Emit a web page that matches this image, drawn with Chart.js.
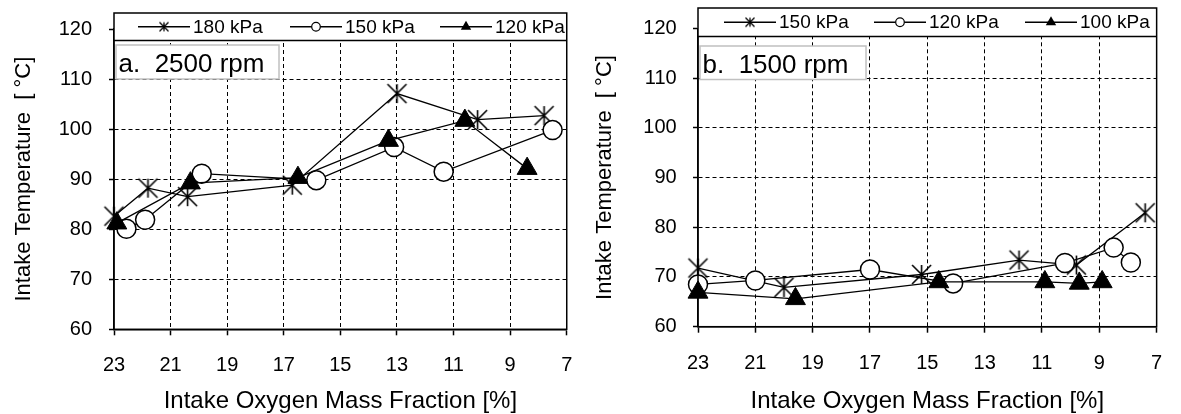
<!DOCTYPE html>
<html>
<head>
<meta charset="utf-8">
<script src="https://cdn.jsdelivr.net/npm/chart.js@4"></script>
<style>
  body { margin: 0; background: #fff; }
  #wrap { position: relative; width: 1181px; height: 414px; }
  canvas { position: absolute; top: 0; }
  #chartA { left: 0; }
  #chartB { left: 590px; }
</style>
</head>
<body>
<div id="wrap">
  <canvas id="chartA" width="590" height="414"></canvas>
  <canvas id="chartB" width="591" height="414"></canvas>
</div>
<script>
const FONT = '"Liberation Sans", Arial, sans-serif';

// shared axes: intake O2 mass fraction [%] (reversed) vs intake temperature [°C]
const xTicks = [23, 21, 19, 17, 15, 13, 11, 9, 7];
const yTicks = [60, 70, 80, 90, 100, 110, 120];

// a. 2500 rpm
const labelsA = ['180 kPa', '150 kPa', '120 kPa'];
const o2A180 = [23.0, 21.8, 20.4, 16.7, 13.0, 10.15, 7.8];
const tA180  = [82.6, 88.2, 86.5, 88.8, 107.1, 101.9, 102.7];
const o2A150 = [22.56, 21.9, 19.9, 15.85, 13.1, 11.35, 7.5];
const tA150  = [80.1, 81.9, 91.1, 89.8, 96.4, 91.5, 99.8];
const o2A120 = [22.9, 20.3, 16.5, 13.3, 10.6, 8.4];
const tA120  = [81.2, 89.2, 90.3, 97.7, 101.7, 92.1];

// b. 1500 rpm
const labelsB = ['150 kPa', '120 kPa', '100 kPa'];
const o2B150 = [23.0, 20.0, 15.2, 11.8, 9.8, 7.4];
const tB150  = [71.8, 67.9, 70.5, 73.4, 72.4, 82.9];
const o2B120 = [23.0, 21.0, 17.0, 14.1, 10.2, 8.5, 7.9];
const tB120  = [68.5, 69.3, 71.5, 68.7, 72.8, 75.9, 72.9];
const o2B100 = [23.0, 19.6, 14.6, 10.9, 9.7, 8.9];
const tB100  = [66.9, 65.6, 69.0, 69.0, 68.7, 69.0];

// excel-like star marker: X with a vertical bar
function starCanvas(r, lw) {
  const c = document.createElement('canvas');
  const s = Math.ceil(r * 2 + lw * 2);
  c.width = s; c.height = s;
  const g = c.getContext('2d');
  const m = s / 2;
  g.strokeStyle = '#000';
  g.lineWidth = lw;
  g.beginPath();
  g.moveTo(m - r, m - r); g.lineTo(m + r, m + r);
  g.moveTo(m + r, m - r); g.lineTo(m - r, m + r);
  g.moveTo(m, m - r); g.lineTo(m, m + r);
  g.stroke();
  return c;
}
const starBig = starCanvas(9.5, 1.6);
const starSmall = starCanvas(4.5, 1.3);

const markers = {
  star: { pointStyle: starBig, pointRadius: 9.5, order: 3 },
  circle: { pointStyle: 'circle', pointRadius: 9.5, pointBackgroundColor: '#fff', pointBorderWidth: 1.5, order: 2 },
  triangle: { pointStyle: 'triangle', pointRadius: 11.5, pointBackgroundColor: '#000', pointBorderWidth: 1, order: 1 }
};

function pts(xs, ys) { return xs.map((x, i) => ({ x: x, y: ys[i] })); }

function series(label, xs, ys, kind) {
  return Object.assign({
    label: label, kind: kind, data: pts(xs, ys),
    borderColor: '#000', borderWidth: 1.3, pointBorderColor: '#000',
    fill: false, tension: 0, clip: false
  }, markers[kind]);
}

function drawMarker(ctx, kind, x, y) {
  ctx.save();
  if (kind === 'star') {
    ctx.drawImage(starSmall, x - starSmall.width / 2, y - starSmall.height / 2);
  } else if (kind === 'circle') {
    ctx.beginPath();
    ctx.arc(x, y, 4.3, 0, Math.PI * 2);
    ctx.fillStyle = '#fff'; ctx.fill();
    ctx.lineWidth = 1.2; ctx.strokeStyle = '#000'; ctx.stroke();
  } else {
    const r = 6;
    ctx.beginPath();
    ctx.moveTo(x, y - r);
    ctx.lineTo(x + r * 0.866, y + r / 2);
    ctx.lineTo(x - r * 0.866, y + r / 2);
    ctx.closePath();
    ctx.fillStyle = '#000'; ctx.fill();
  }
  ctx.restore();
}

// frame, legend strip on top of the plot and the label box
const framePlugin = {
  id: 'frame',
  afterDraw(chart, args, opts) {
    const { ctx, chartArea: a } = chart;
    const top = opts.frameTop, lb = opts.legendBottom;
    ctx.save();
    ctx.fillStyle = '#fff';
    ctx.fillRect(a.left, top, a.right - a.left, lb - top);
    ctx.strokeStyle = '#000';
    ctx.lineWidth = 1.5;
    ctx.strokeRect(a.left, top, a.right - a.left, a.bottom - top);
    ctx.beginPath();
    ctx.moveTo(a.left, lb); ctx.lineTo(a.right, lb);
    ctx.stroke();

    const ly = (top + lb) / 2;
    ctx.font = '19px ' + FONT;
    ctx.textBaseline = 'middle';
    ctx.textAlign = 'left';
    chart.data.datasets.forEach((ds, i) => {
      const x0 = a.left + opts.itemX[i];
      ctx.strokeStyle = '#000';
      ctx.lineWidth = 1.3;
      ctx.beginPath();
      ctx.moveTo(x0, ly); ctx.lineTo(x0 + 52, ly);
      ctx.stroke();
      drawMarker(ctx, ds.kind, x0 + 26, ly);
      ctx.fillStyle = '#000';
      ctx.fillText(ds.label, x0 + 55, ly + 1);
    });

    const n = opts.note;
    ctx.fillStyle = '#fff';
    ctx.fillRect(n.x, n.y, n.w, n.h);
    ctx.strokeStyle = '#c0c0c0';
    ctx.lineWidth = 1.5;
    ctx.strokeRect(n.x, n.y, n.w, n.h);
    ctx.fillStyle = '#000';
    ctx.font = '26px ' + FONT;
    ctx.textBaseline = 'alphabetic';
    ctx.fillText(n.text, n.x + 2.5, n.y + 27);
    ctx.restore();
  }
};

function makeChart(id, datasets, cfg) {
  const hidden = 'rgba(0,0,0,0)';
  return new Chart(document.getElementById(id), {
    type: 'line',
    data: { datasets: datasets },
    options: {
      responsive: false,
      animation: false,
      devicePixelRatio: 1,
      events: [],
      layout: { padding: { left: 0, right: cfg.padRight, top: cfg.padTop, bottom: 0 } },
      plugins: {
        legend: { display: false },
        tooltip: { enabled: false },
        frame: cfg.frame
      },
      scales: {
        x: {
          type: 'linear',
          reverse: true,
          min: Math.min(...xTicks),
          max: Math.max(...xTicks),
          afterBuildTicks: s => { s.ticks = xTicks.map(v => ({ value: v })); },
          afterFit: s => { s.height = cfg.xHeight; },
          ticks: { color: '#000', font: { family: FONT, size: 20 }, padding: cfg.xTickPad, maxRotation: 0, autoSkip: false },
          grid: {
            color: c => (c.tick && (c.tick.value === xTicks[0] || c.tick.value === xTicks[xTicks.length - 1])) ? hidden : '#000',
            lineWidth: 1, tickLength: 6, tickColor: '#000', tickWidth: 1.5
          },
          border: { color: '#000', width: 1.5, dash: [4, 3] },
          title: {
            display: true, text: 'Intake Oxygen Mass Fraction [%]', color: '#000',
            font: { family: FONT, size: 24, lineHeight: 1 }, padding: { top: 0, bottom: 0.5 }
          }
        },
        y: {
          min: Math.min(...yTicks),
          max: Math.max(...yTicks),
          afterBuildTicks: s => { s.ticks = yTicks.map(v => ({ value: v })); },
          afterFit: s => { s.width = cfg.yWidth; },
          ticks: { color: '#000', font: { family: FONT, size: 20 }, padding: cfg.yTickPad },
          grid: {
            color: c => (c.tick && (c.tick.value === yTicks[0] || c.tick.value === yTicks[yTicks.length - 1])) ? hidden : '#000',
            lineWidth: 1, tickLength: 5, tickColor: '#000', tickWidth: 1.5
          },
          border: { color: '#000', width: 1.5, dash: [4, 3] },
          title: {
            display: true, text: 'Intake Temperature  [ °C]', color: '#000',
            font: { family: FONT, size: 22, lineHeight: 1 }, padding: { top: cfg.yTitlePad, bottom: 0 }
          }
        }
      }
    },
    plugins: [framePlugin]
  });
}

makeChart('chartA', [
  series(labelsA[0], o2A180, tA180, 'star'),
  series(labelsA[1], o2A150, tA150, 'circle'),
  series(labelsA[2], o2A120, tA120, 'triangle')
], {
  padTop: 25.4, padRight: 10, xHeight: 84.7, yWidth: 114,
  xTickPad: 17.7, yTickPad: 17, yTitlePad: 13,
  frame: {
    frameTop: 13, legendBottom: 40.5, itemX: [24, 176, 326],
    note: { text: 'a.  2500 rpm', x: 116, y: 45, w: 163, h: 34 }
  }
});

makeChart('chartB', [
  series(labelsB[0], o2B150, tB150, 'star'),
  series(labelsB[1], o2B120, tB120, 'circle'),
  series(labelsB[2], o2B100, tB100, 'triangle')
], {
  padTop: 21, padRight: 16, xHeight: 87.3, yWidth: 108,
  xTickPad: 18.8, yTickPad: 16.3, yTitlePad: 4,
  frame: {
    frameTop: 8, legendBottom: 36.5, itemX: [26, 176, 327],
    note: { text: 'b.  1500 rpm', x: 110, y: 46, w: 166, h: 33.5 }
  }
});
</script>
</body>
</html>
